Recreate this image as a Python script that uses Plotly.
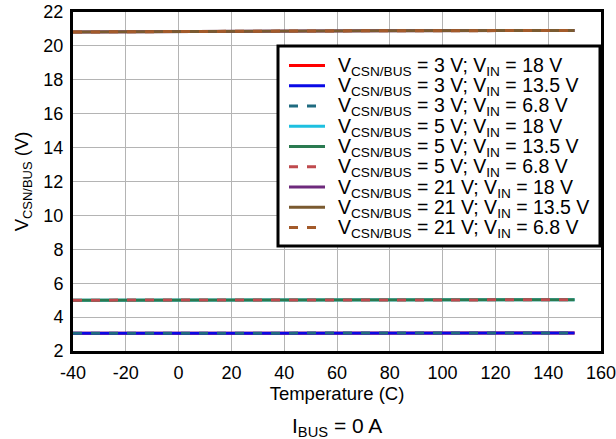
import plotly.graph_objects as go

temps = [-40, -20, 0, 25, 50, 75, 100, 125, 150]

v3_18 = [3.05, 3.05, 3.05, 3.05, 3.05, 3.05, 3.06, 3.06, 3.06]
v3_135 = [3.05, 3.05, 3.05, 3.05, 3.05, 3.05, 3.06, 3.06, 3.06]
v3_68 = [3.05, 3.05, 3.05, 3.05, 3.05, 3.05, 3.06, 3.06, 3.06]
v5_18 = [5.00, 5.00, 5.00, 5.01, 5.01, 5.01, 5.02, 5.02, 5.02]
v5_135 = [5.00, 5.00, 5.00, 5.01, 5.01, 5.01, 5.02, 5.02, 5.02]
v5_68 = [5.00, 5.00, 5.00, 5.01, 5.01, 5.01, 5.02, 5.02, 5.02]
v21_18 = [20.82, 20.84, 20.86, 20.87, 20.88, 20.89, 20.90, 20.90, 20.91]
v21_135 = [20.82, 20.84, 20.86, 20.87, 20.88, 20.89, 20.90, 20.90, 20.91]
v21_68 = [20.82, 20.84, 20.86, 20.87, 20.88, 20.89, 20.90, 20.90, 20.91]

names = [
    "V<sub>CSN/BUS</sub> = 3 V; V<sub>IN</sub> = 18 V",
    "V<sub>CSN/BUS</sub> = 3 V; V<sub>IN</sub> = 13.5 V",
    "V<sub>CSN/BUS</sub> = 3 V; V<sub>IN</sub> = 6.8 V",
    "V<sub>CSN/BUS</sub> = 5 V; V<sub>IN</sub> = 18 V",
    "V<sub>CSN/BUS</sub> = 5 V; V<sub>IN</sub> = 13.5 V",
    "V<sub>CSN/BUS</sub> = 5 V; V<sub>IN</sub> = 6.8 V",
    "V<sub>CSN/BUS</sub> = 21 V; V<sub>IN</sub> = 18 V",
    "V<sub>CSN/BUS</sub> = 21 V; V<sub>IN</sub> = 13.5 V",
    "V<sub>CSN/BUS</sub> = 21 V; V<sub>IN</sub> = 6.8 V",
]
series = [v3_18, v3_135, v3_68, v5_18, v5_135, v5_68, v21_18, v21_135, v21_68]
colors = ["#ff0000", "#0a0ae6", "#1f6b80", "#1ec0e0", "#2a7a50", "#bf4a4e",
          "#6e2a7c", "#7a5a30", "#a35a2a"]
dashes = ["solid", "solid", "dash", "solid", "solid", "dash", "solid", "solid", "dash"]

x_ticks = [-40, -20, 0, 20, 40, 60, 80, 100, 120, 140, 160]
x_ticktext = [str(v) for v in x_ticks]
y_ticks = [2, 4, 6, 8, 10, 12, 14, 16, 18, 20, 22]

W, H = 616, 439
L, R, T, B = 73, 15, 12, 88
PW, PH = W - L - R, H - T - B


def px(x):
    return (x - L) / PW


def py(y):
    return (H - B - y) / PH


fig = go.Figure()
for n, s, c, d in zip(names, series, colors, dashes):
    fig.add_trace(go.Scatter(x=temps, y=s, mode="lines", name=n,
                             line=dict(color=c, width=3, dash=d)))

font = "Liberation Sans, Arial, sans-serif"

shapes = [dict(type="rect", xref="paper", yref="paper", layer="above",
               x0=px(278), x1=px(600), y0=py(246), y1=py(46),
               line=dict(color="black", width=3), fillcolor="white")]
annotations = []
for i, (n, c, d) in enumerate(zip(names, colors, dashes)):
    yy = 65.5 + 20.25 * i
    shapes.append(dict(type="line", xref="paper", yref="paper", layer="above",
                       x0=px(289), x1=px(325), y0=py(yy), y1=py(yy),
                       line=dict(color=c, width=3, dash=d)))
    annotations.append(dict(text=n, x=px(336), y=py(yy + 1), xref="paper",
                            yref="paper", xanchor="left", yanchor="middle",
                            showarrow=False,
                            font=dict(family=font, size=19.5, color="black")))

annotations.append(dict(text="I<sub>BUS</sub> = 0 A", x=px(337), y=py(427),
                        xref="paper", yref="paper", xanchor="center",
                        yanchor="middle", showarrow=False,
                        font=dict(family=font, size=21, color="black")))

fig.update_layout(
    width=W, height=H,
    margin=dict(l=L, r=R, t=T, b=B, autoexpand=False),
    plot_bgcolor="white", paper_bgcolor="white",
    font=dict(family=font, size=18, color="black"),
    showlegend=False,
    xaxis=dict(range=[-40, 160], tickvals=x_ticks, ticktext=x_ticktext,
               showgrid=True, gridcolor="#b4b4b4", gridwidth=1,
               showline=True, linecolor="black", linewidth=3, mirror=True,
               ticks="outside", ticklen=3, tickcolor="rgba(0,0,0,0)",
               zeroline=False, automargin=False, ticklabeloverflow="allow",
               tickfont=dict(size=18),
               title=dict(text="Temperature (C)", standoff=0,
                          font=dict(size=18.5))),
    yaxis=dict(range=[2, 22], tickvals=y_ticks,
               showgrid=True, gridcolor="#b4b4b4", gridwidth=1,
               showline=True, linecolor="black", linewidth=3, mirror=True,
               ticks="outside", ticklen=3, tickcolor="rgba(0,0,0,0)",
               zeroline=False, automargin=False, ticklabeloverflow="allow",
               tickfont=dict(size=18),
               title=dict(text="V<sub>CSN/BUS</sub> (V)", standoff=10,
                          font=dict(size=18.5))),
    shapes=shapes,
    annotations=annotations,
)

fig.write_html("out.html",
               config={"displayModeBar": False},
               post_script="document.body.style.margin='0';"
                           "document.body.style.overflow='hidden';")
